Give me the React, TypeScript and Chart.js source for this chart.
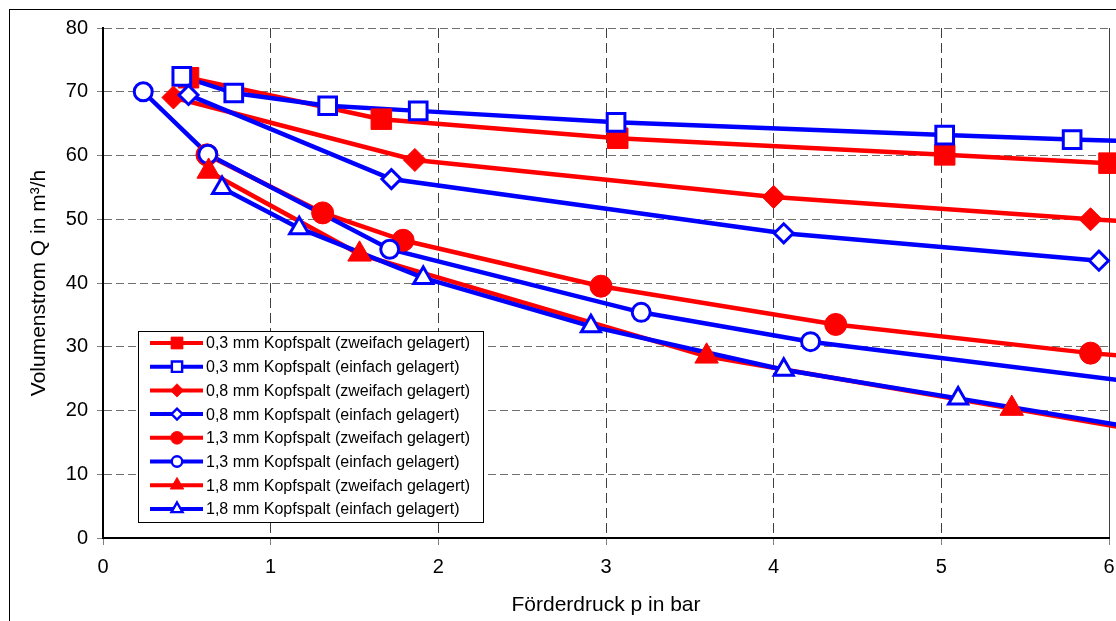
import React, { useEffect, useRef } from "react";
import { Chart, registerables } from "chart.js";

Chart.register(...registerables);

const FONT = '"Liberation Sans", Arial, Helvetica, sans-serif';

const xTickValues = [0, 1, 2, 3, 4, 5, 6];
const yTickValues = [0, 10, 20, 30, 40, 50, 60, 70, 80];
const xAxisTitle = "Förderdruck p in bar";
const yAxisTitle = "Volumenstrom Q in m³/h";

const seriesLabels = [
  "0,3 mm Kopfspalt (zweifach gelagert)",
  "0,3 mm Kopfspalt (einfach gelagert)",
  "0,8 mm Kopfspalt (zweifach gelagert)",
  "0,8 mm Kopfspalt (einfach gelagert)",
  "1,3 mm Kopfspalt (zweifach gelagert)",
  "1,3 mm Kopfspalt (einfach gelagert)",
  "1,8 mm Kopfspalt (zweifach gelagert)",
  "1,8 mm Kopfspalt (einfach gelagert)",
];

// pressure p (bar) and flow Q (m³/h) per series
const p03z = [0.51, 1.66, 3.07, 5.02, 6.0];
const q03z = [72.2, 65.7, 62.7, 60.1, 58.8];
const p03e = [0.47, 0.78, 1.34, 1.88, 3.06, 5.02, 5.78, 6.2];
const q03e = [72.4, 69.8, 67.8, 67.0, 65.2, 63.2, 62.5, 62.2];
const p08z = [0.42, 1.86, 4.0, 5.89, 6.2];
const q08z = [69.1, 59.3, 53.5, 50.0, 49.5];
const p08e = [0.51, 1.72, 4.06, 5.94];
const q08e = [69.5, 56.3, 47.8, 43.5];
const p13z = [0.62, 1.31, 1.79, 2.97, 4.37, 5.89, 6.2];
const q13z = [60.1, 51.0, 46.7, 39.5, 33.5, 29.0, 28.3];
const p13e = [0.24, 0.625, 1.71, 3.21, 4.22, 6.2];
const q13e = [70.0, 60.2, 45.3, 35.4, 30.8, 24.3];
const p18z = [0.63, 1.53, 3.6, 5.42, 6.2];
const q18z = [57.5, 44.5, 28.5, 20.3, 16.8];
const p18e = [0.71, 1.17, 1.91, 2.91, 4.06, 5.1, 6.2];
const q18e = [54.9, 48.6, 40.8, 33.2, 26.4, 21.9, 17.1];

const seriesP = [p03z, p03e, p08z, p08e, p13z, p13e, p18z, p18e];
const seriesQ = [q03z, q03e, q08z, q08e, q13z, q13e, q18z, q18e];

const RED = "#FF0000";
const BLUE = "#0000FF";
const seriesStyles = [
  { color: RED, shape: "rect", filled: true, r: 14.5 },
  { color: BLUE, shape: "rect", filled: false, r: 12.5 },
  { color: RED, shape: "rectRot", filled: true, r: 11.5 },
  { color: BLUE, shape: "rectRot", filled: false, r: 9.5 },
  { color: RED, shape: "circle", filled: true, r: 11 },
  { color: BLUE, shape: "circle", filled: false, r: 9 },
  { color: RED, shape: "triangle", filled: true, r: 13.5 },
  { color: BLUE, shape: "triangle", filled: false, r: 11 },
];

function drawMarker(
  ctx: CanvasRenderingContext2D,
  style: string,
  x: number,
  y: number,
  r: number,
  fill: string,
  stroke: string,
  bw: number
) {
  ctx.beginPath();
  if (style === "rect") {
    const s = r * Math.SQRT1_2;
    ctx.rect(x - s, y - s, 2 * s, 2 * s);
  } else if (style === "rectRot") {
    ctx.moveTo(x - r, y);
    ctx.lineTo(x, y - r);
    ctx.lineTo(x + r, y);
    ctx.lineTo(x, y + r);
    ctx.closePath();
  } else if (style === "circle") {
    ctx.arc(x, y, r, 0, Math.PI * 2);
  } else if (style === "triangle") {
    let rad = 0;
    ctx.moveTo(x + Math.sin(rad) * r, y - Math.cos(rad) * r);
    rad += (2 * Math.PI) / 3;
    ctx.lineTo(x + Math.sin(rad) * r, y - Math.cos(rad) * r);
    rad += (2 * Math.PI) / 3;
    ctx.lineTo(x + Math.sin(rad) * r, y - Math.cos(rad) * r);
    ctx.closePath();
  }
  ctx.fillStyle = fill;
  ctx.fill();
  if (bw > 0) {
    ctx.lineWidth = bw;
    ctx.strokeStyle = stroke;
    ctx.stroke();
  }
}

const framePlugin = {
  id: "outerFrame",
  beforeDraw(chart: any) {
    const ctx = chart.ctx as CanvasRenderingContext2D;
    ctx.save();
    ctx.fillStyle = "#fff";
    ctx.fillRect(0, 0, chart.width, chart.height);
    ctx.strokeStyle = "#000";
    ctx.lineWidth = 1;
    ctx.strokeRect(9.5, 9.5, 1400, 1400);
    ctx.restore();
  },
};

const legendPlugin = {
  id: "boxLegend",
  afterDraw(chart: any) {
    const ctx = chart.ctx as CanvasRenderingContext2D;
    ctx.save();
    ctx.fillStyle = "#fff";
    ctx.fillRect(138, 331, 345, 191);
    ctx.strokeStyle = "#000";
    ctx.lineWidth = 1;
    ctx.strokeRect(138.5, 331.5, 345, 191);
    const markerSets = chart.data.datasets.filter((ds: any) => ds.isMarkerSet);
    markerSets.forEach((ds: any, i: number) => {
      const y = 343 + i * 23.7;
      ctx.strokeStyle = ds.pointBorderColor;
      ctx.lineWidth = 4;
      ctx.beginPath();
      ctx.moveTo(150, y);
      ctx.lineTo(203, y);
      ctx.stroke();
      drawMarker(
        ctx,
        ds.pointStyle,
        177,
        y,
        ds.pointRadius * 0.58,
        ds.pointBackgroundColor,
        ds.pointBorderColor,
        ds.pointBorderWidth * 0.8
      );
      ctx.fillStyle = "#000";
      ctx.font = `16px ${FONT}`;
      ctx.textBaseline = "middle";
      ctx.textAlign = "left";
      ctx.fillText(ds.label, 206, y + 1);
    });
    ctx.restore();
  },
};

export default function App() {
  const ref = useRef<HTMLCanvasElement>(null);

  useEffect(() => {
    if (!ref.current) return;
    // lines of all series first (underneath), then markers of all series on top
    const lineSets = seriesLabels.map((label, i) => {
      const st = seriesStyles[i];
      return {
        label: label + " (Linie)",
        isMarkerSet: false,
        data: seriesP[i].map((p, j) => ({ x: p, y: seriesQ[i][j] })),
        borderColor: st.color,
        backgroundColor: st.color,
        borderWidth: 4.5,
        tension: 0,
        pointRadius: 0,
        pointHoverRadius: 0,
        showLine: true,
        clip: false,
        order: 100 - i,
      };
    });
    const markerSets = seriesLabels.map((label, i) => {
      const st = seriesStyles[i];
      return {
        label,
        isMarkerSet: true,
        data: seriesP[i].map((p, j) => ({ x: p, y: seriesQ[i][j] })),
        borderColor: st.color,
        backgroundColor: st.color,
        showLine: false,
        pointStyle: st.shape,
        pointRadius: st.r,
        pointHoverRadius: st.r,
        pointBackgroundColor: st.filled ? st.color : "#FFFFFF",
        pointBorderColor: st.color,
        pointBorderWidth: st.filled ? 1 : 3,
        clip: false,
        order: 7 - i,
      };
    });

    const chart = new Chart(ref.current, {
      type: "line",
      data: { datasets: [...lineSets, ...markerSets] as any },
      options: {
        animation: false,
        responsive: false,
        events: [],
        layout: {
          autoPadding: false,
          padding: { left: 10, top: 28, right: 7, bottom: 0 },
        },
        plugins: {
          legend: { display: false },
          tooltip: { enabled: false },
        },
        scales: {
          x: {
            type: "linear",
            min: 0,
            max: 6,
            afterFit: (s: any) => {
              s.height = 83;
              s.paddingLeft = 0;
              s.paddingRight = 0;
            },
            afterBuildTicks: (s: any) => {
              s.ticks = xTickValues.map((v) => ({ value: v }));
            },
            ticks: {
              color: "#000",
              font: { family: FONT, size: 20 },
              padding: 10,
              maxRotation: 0,
            },
            grid: {
              color: "#404040",
              lineWidth: 1,
              tickLength: 7,
              tickColor: "#808080",
              drawTicks: true,
            },
            border: {
              display: true,
              color: "#000",
              width: 2,
              dash: (c: any) => (c.tick && c.tick.value === 6 ? [] : [10, 5]),
            },
            title: {
              display: true,
              text: xAxisTitle,
              color: "#000",
              font: { family: FONT, size: 21 },
              padding: { top: 0, bottom: 3 },
            },
          } as any,
          y: {
            type: "linear",
            min: 0,
            max: 80,
            afterFit: (s: any) => {
              s.width = 93;
              s.paddingTop = 0;
              s.paddingBottom = 0;
            },
            afterBuildTicks: (s: any) => {
              s.ticks = yTickValues.map((v) => ({ value: v }));
            },
            ticks: {
              color: "#000",
              font: { family: FONT, size: 20 },
              padding: 9,
            },
            grid: {
              color: "#707070",
              lineWidth: 1,
              tickLength: 6,
              tickColor: "#808080",
              drawTicks: true,
            },
            border: {
              display: true,
              color: "#000",
              width: 2,
              dash: [8, 4],
            },
            title: {
              display: true,
              text: yAxisTitle,
              color: "#000",
              font: { family: FONT, size: 21 },
              padding: { top: 17, bottom: 0 },
            },
          } as any,
        },
      },
      plugins: [framePlugin, legendPlugin],
    });
    return () => chart.destroy();
  }, []);

  return (
    <div
      style={{
        position: "absolute",
        left: 0,
        top: 0,
        width: 1116,
        height: 621,
        overflow: "hidden",
        background: "#fff",
      }}
    >
      <canvas ref={ref} width={1116} height={621} style={{ display: "block" }} />
    </div>
  );
}
